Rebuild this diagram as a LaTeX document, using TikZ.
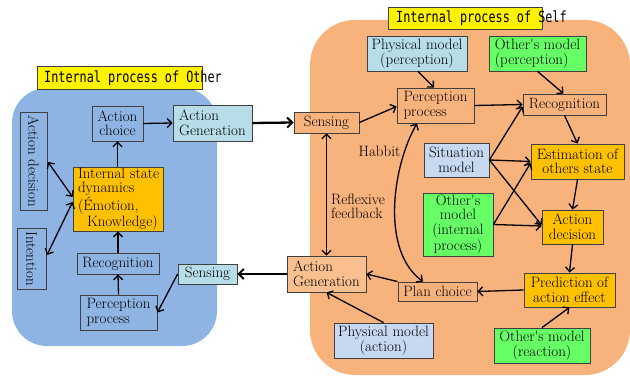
\documentclass[tikz,border=0pt]{standalone}
\usepackage{fontspec}
\newfontfamily\labelfont{DejaVu Sans Mono}
\usetikzlibrary{arrows.meta,calc}
\definecolor{regblue}{HTML}{8DB4E2}
\definecolor{regorange}{HTML}{F8B27C}
\definecolor{genorange}{HTML}{F9BF8F}
\definecolor{lblue}{HTML}{B7DDE8}
\definecolor{sblue}{HTML}{C6D9F1}
\definecolor{lgreen}{HTML}{66FF66}
\definecolor{gold}{HTML}{FFC000}
\definecolor{bord}{HTML}{404040}
\tikzset{
  box/.style={draw=bord, line width=0.8pt, inner sep=1pt, font=\fontsize{15}{14.5}\selectfont},
  arr/.style={line width=1.3pt, -{Straight Barb[length=4.5pt,width=9pt,line width=1.3pt]}},
  darr/.style={line width=1.3pt, {Straight Barb[length=4.5pt,width=9pt,line width=1.3pt]}-{Straight Barb[length=4.5pt,width=9pt,line width=1.3pt]}},
  thickarr/.style={line width=2.3pt, -{Straight Barb[length=5pt,width=10pt,line width=2pt]}},
  lbl/.style={font=\fontsize{15}{14.5}\selectfont, inner sep=0pt},
  ylbl/.style={fill=yellow, draw=bord, line width=0.6pt},
  ytext/.style={anchor=west, inner sep=0pt, font=\labelfont\fontsize{11.8}{12}\selectfont}
}
\newcommand{\apos}{\textquotesingle}
\begin{document}
\begin{tikzpicture}[x=1pt,y=-1pt]
\useasboundingbox (0,0) rectangle (630,377);
% regions
\fill[regblue, rounded corners=35pt] (12,88) rectangle (217,346);
\fill[regorange, rounded corners=45pt] (310,20) rectangle (630,375);
% region labels
\draw[ylbl] (37,66) rectangle (202,89);
\node[ytext] (lblOther) at (44,78) {\scalebox{1}[1.3]{Internal process of Other}};
\draw[ylbl] (388,7) rectangle (542,29);
\node[ytext] (lblSelf) at (396,18.5) {\scalebox{1}[1.3]{Internal process of Self}};

% left nodes
\node[box, rotate=-90, minimum width=98pt, minimum height=27pt] (Ldec) at (33.5,161) {Action decision};
\node[box, rotate=-90, minimum width=61pt, minimum height=29pt] (Lint) at (31.5,258.5) {Intention};
\node[box, align=center, minimum width=51pt, minimum height=35pt] (Lchoice) at (117.5,123.5) {Action\\choice};
\node[box, fill=lblue, align=left, minimum width=79pt, minimum height=36pt] (LgenA) at (212.5,123) {Action\\Generation};
\node[box, fill=gold, align=left, text width=80pt, inner xsep=5pt, minimum height=62pt] (Lstate) at (118,199) {Internal~state\\dynamics\\(Émotion,\\\hspace*{0.6em}Knowledge)};
\node[box, minimum width=82pt, minimum height=21pt] (Lrec) at (118,263.5) {Recognition};
\node[box, align=left, minimum width=77pt, minimum height=35pt] (Lperc) at (118.5,312.5) {Perception\\process};
\node[box, fill=lblue, minimum width=59pt, minimum height=20pt] (Lsens) at (207.5,274) {Sensing};

% right nodes
\node[box, fill=regorange, minimum width=65pt, minimum height=21pt] (Rsens) at (326.5,122.5) {Sensing};
\node[box, fill=lblue, align=center, minimum width=100pt, minimum height=35pt] (Rphys) at (417,53.5) {Physical model\\(perception)};
\node[box, fill=lgreen, align=left, minimum width=97pt, minimum height=35pt] (Roth) at (537.5,53.5) {Other\apos s model\\(perception)};
\node[box, fill=regorange, align=left, minimum width=77pt, minimum height=35pt] (Rperc) at (435.5,105.5) {Perception\\process};
\node[box, fill=regorange, minimum width=83pt, minimum height=21pt] (Rrec) at (564.5,104.5) {Recognition};
\node[box, fill=sblue, align=center, minimum width=65pt, minimum height=34pt] (Rsit) at (456.5,160) {Situation\\model};
\node[box, fill=gold, align=center, minimum width=93pt, minimum height=35pt] (Rest) at (577.5,161.5) {Estimation of\\others state};
\node[box, fill=lgreen, align=center, minimum width=70pt, minimum height=63pt] (Roint) at (458,224.5) {Other\apos s\\model\\(internal\\process)};
\node[box, fill=gold, align=center, minimum width=61pt, minimum height=34pt] (Rdec) at (572.5,227) {Action\\decision};
\node[box, fill=gold, align=center, minimum width=91pt, minimum height=34pt] (Rpred) at (569.5,290) {Prediction of\\action effect};
\node[box, fill=regorange, minimum width=79pt, minimum height=19pt] (Rplan) at (437.5,291.5) {Plan choice};
\node[box, fill=genorange, align=left, minimum width=79pt, minimum height=36pt] (Rgen) at (326.5,274) {Action\\Generation};
\node[box, fill=sblue, align=center, minimum width=99pt, minimum height=35pt] (Rphysa) at (383.5,340.5) {Physical model\\(action)};
\node[box, fill=lgreen, align=center, minimum width=96pt, minimum height=35pt] (Rothr) at (542,345.5) {Other\apos s model\\(reaction)};

% free labels
\node[lbl] (habbit) at (379.5,151) {Habbit};
\node[lbl, align=left] (reflex) at (358,206.5) {Reflexive\\feedback};

% left connectors
\draw[arr] (Lchoice.east) -- (LgenA.west);
\draw[arr] (Lstate.north -| Lchoice.south) -- (Lchoice.south);
\draw[arr] (Lrec.north) -- (Lstate.south);
\draw[arr] (Lperc.north) -- (Lrec.south);
\draw[arr] (Lsens.west) -- (Lperc.east);
\draw[darr] ([xshift=14.5pt,yshift=-1pt]Ldec.center) -- ([yshift=2pt]Lstate.west);
\draw[darr] ([xshift=15.5pt,yshift=3.5pt]Lint.center) -- ([yshift=-3pt]Lstate.west);

% between the two sides
\draw[thickarr] (LgenA.east) -- (Rsens.west);
\draw[thickarr] (Rgen.west) -- (Lsens.east);

% right connectors
\draw[arr] (Rsens.east) -- ([yshift=-1pt]Rperc.west);
\draw[arr] ([xshift=1pt]Rphys.south) -- ([xshift=-1.5pt]Rperc.north);
\draw[arr] (Roth.south) -- ([xshift=-1pt]Rrec.north);
\draw[arr] (Rperc.east) -- (Rrec.west);
\draw[arr] (Rrec.south) -- (Rest.north);
\draw[arr] (Rsit.east) -- ([yshift=-2pt]Rrec.west);
\draw[arr] (Rsit.east) -- (Rest.west);
\draw[arr] (Rsit.east) -- ([yshift=2pt]Rdec.west);
\draw[arr] (Roint.east) -- ([yshift=-1.5pt]Rest.west);
\draw[arr] (Roint.east) -- ([yshift=1pt]Rdec.west);
\draw[arr] (Rest.south) -- (Rdec.north);
\draw[arr] (Rdec.south) -- (Rpred.north);
\draw[arr] (Rpred.west) -- (Rplan.east);
\draw[arr] (Rplan.north west) -- (Rgen.east);
\draw[arr] (Rphysa.north) -- (Rgen.south);
\draw[arr] (Rothr.north) -- (Rpred.south);
\draw[darr] (Rsens.south) -- (Rgen.north);
\draw[darr] ([xshift=-18.5pt]Rperc.south) .. controls (393,165) and (380,250) .. ([xshift=-14.5pt]Rplan.north);
\end{tikzpicture}
\end{document}
